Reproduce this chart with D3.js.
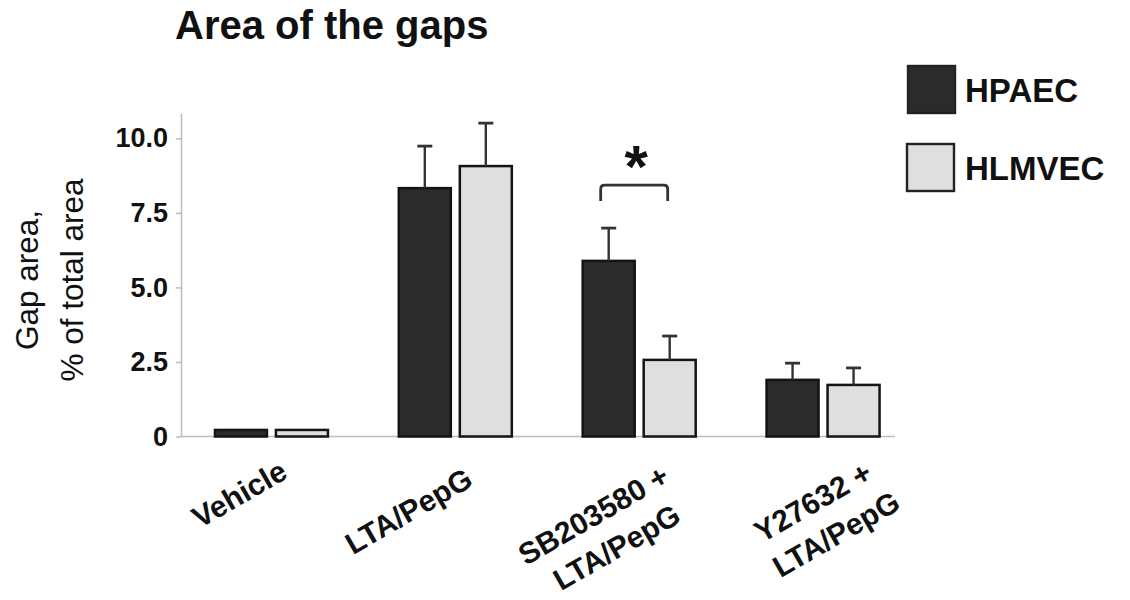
<!DOCTYPE html>
<html><head><meta charset="utf-8">
<script src="https://cdn.jsdelivr.net/npm/d3@7"></script>
<style>body{margin:0;background:#fff}</style>
</head><body>
<svg id="c" width="1130" height="600"></svg>
<script>
// ---- data ----
const categories = ["Vehicle", "LTA/PepG", "SB203580 +\nLTA/PepG", "Y27632 +\nLTA/PepG"];
const series = ["HPAEC", "HLMVEC"];
const hpaecValues = [0.22, 8.33, 5.89, 1.90];
const hpaecErrors = [0, 1.41, 1.10, 0.56];
const hlmvecValues = [0.22, 9.07, 2.57, 1.73];
const hlmvecErrors = [0, 1.44, 0.80, 0.57];
const yTickValues = [0, 2.5, 5, 7.5, 10];
const yTickLabels = ["0", "2.5", "5.0", "7.5", "10.0"];
const sigPair = { category: "SB203580 +\nLTA/PepG", level: 8.43, drop: 0.53, mark: "*" };

// ---- layout ----
const plotLeft = 181, plotRight = 895;
const colors = { HPAEC: "#2b2b2b", HLMVEC: "#dfdfdf" };
const labelDx = [-27, -41.5, -40.5, -5];
const labelY = [503, 520, 524, 511];
const FONT = "Liberation Sans, Arial, sans-serif";

const svg = d3.select("#c");
const table = categories.map((c, i) => ({
  cat: c,
  vals: [
    { s: "HPAEC", v: hpaecValues[i], e: hpaecErrors[i] },
    { s: "HLMVEC", v: hlmvecValues[i], e: hlmvecErrors[i] }
  ]
}));

const x0 = d3.scaleBand().domain(categories).range([179.5, 915]).padding(0);
const x1 = d3.scaleBand().domain(series).range([-56.5, 56.5]).paddingInner(9 / 61);
const y = d3.scaleLinear().domain([0, 10.85]).range([436.5, 113]);
const cx = c => x0(c) + x0.bandwidth() / 2;

// title
svg.append("text").attr("x", 175).attr("y", 39)
  .attr("font-family", FONT)
  .attr("font-weight", "bold").attr("font-size", 40).attr("fill", "#111")
  .text("Area of the gaps");

// y axis
const yAxis = svg.append("g").attr("transform", `translate(${plotLeft},0)`)
  .call(d3.axisLeft(y).tickValues(yTickValues).tickFormat((d, i) => yTickLabels[i])
    .tickSize(5).tickSizeOuter(0).tickPadding(8));
yAxis.select(".domain").attr("stroke", "#bdbdbd").attr("stroke-width", 1.5);
yAxis.selectAll(".tick line").attr("stroke", "#bdbdbd").attr("stroke-width", 1.5);
yAxis.selectAll(".tick text")
  .attr("font-family", FONT)
  .attr("font-weight", "bold").attr("font-size", 27).attr("fill", "#111");

// x baseline
svg.append("line").attr("x1", plotLeft).attr("x2", plotRight)
  .attr("y1", y(0)).attr("y2", y(0))
  .attr("stroke", "#bdbdbd").attr("stroke-width", 1.5);

// y title
const yt = svg.append("text")
  .attr("transform", `translate(38,280) rotate(-90)`)
  .attr("font-family", FONT)
  .attr("font-size", 31.5).attr("fill", "#111").attr("text-anchor", "middle");
yt.append("tspan").attr("x", 0).attr("y", 0).text("Gap area,");
yt.append("tspan").attr("x", 0).attr("y", 45).text("% of total area");

// bars
const groups = svg.append("g").selectAll("g").data(table).join("g")
  .attr("transform", d => `translate(${cx(d.cat)},0)`);
groups.selectAll("rect").data(d => d.vals).join("rect")
  .attr("x", d => x1(d.s)).attr("width", x1.bandwidth())
  .attr("y", d => y(d.v)).attr("height", d => y(0) - y(d.v))
  .attr("fill", d => colors[d.s]).attr("stroke", "#141414").attr("stroke-width", 2.5);

// error bars
const eb = groups.selectAll("g.err").data(d => d.vals.filter(v => v.e > 0)).join("g").attr("class", "err");
eb.append("line")
  .attr("x1", d => x1(d.s) + x1.bandwidth() / 2).attr("x2", d => x1(d.s) + x1.bandwidth() / 2)
  .attr("y1", d => y(d.v)).attr("y2", d => y(d.v + d.e))
  .attr("stroke", "#333").attr("stroke-width", 2.4);
eb.append("line")
  .attr("x1", d => x1(d.s) + x1.bandwidth() / 2 - 7.5).attr("x2", d => x1(d.s) + x1.bandwidth() / 2 + 7.5)
  .attr("y1", d => y(d.v + d.e)).attr("y2", d => y(d.v + d.e))
  .attr("stroke", "#333").attr("stroke-width", 2.8);

// significance bracket
{
  const c = cx(sigPair.category);
  const xl = c + x1("HPAEC") + x1.bandwidth() / 2 - 8;
  const xr = c + x1("HLMVEC") + x1.bandwidth() / 2 - 2;
  const yt0 = y(sigPair.level), yb = y(sigPair.level - sigPair.drop), r = 4;
  svg.append("path")
    .attr("d", `M${xl},${yb} L${xl},${yt0 + r} Q${xl},${yt0} ${xl + r},${yt0} L${xr - r},${yt0} Q${xr},${yt0} ${xr},${yt0 + r} L${xr},${yb}`)
    .attr("fill", "none").attr("stroke", "#333").attr("stroke-width", 2.8);
  svg.append("text").attr("x", (xl + xr) / 2 + 2).attr("y", yt0 + 2)
    .attr("text-anchor", "middle")
    .attr("font-family", FONT)
    .attr("font-weight", "bold").attr("font-size", 60).attr("fill", "#111")
    .text(sigPair.mark);
}

// x labels
categories.forEach((c, i) => {
  const t = svg.append("text")
    .attr("transform", `translate(${cx(c) + labelDx[i]},${labelY[i]}) rotate(-30)`)
    .attr("font-family", FONT)
    .attr("font-weight", "bold").attr("font-size", 30).attr("fill", "#111")
    .attr("text-anchor", "middle");
  c.split("\n").forEach((line, j) => {
    t.append("tspan").attr("x", j * 4).attr("y", j * 39.5).text(line);
  });
});

// legend
const leg = svg.append("g");
series.forEach((s, i) => {
  const yy = 66 + i * 78;
  leg.append("rect").attr("x", 908 - i).attr("y", yy).attr("width", 47).attr("height", 47)
    .attr("fill", colors[s]).attr("stroke", "#222").attr("stroke-width", 2.4);
  leg.append("text").attr("x", 965).attr("y", yy + 36)
    .attr("font-family", FONT)
    .attr("font-weight", "bold").attr("font-size", 33).attr("fill", "#111")
    .text(s);
});
</script>
</body></html>
